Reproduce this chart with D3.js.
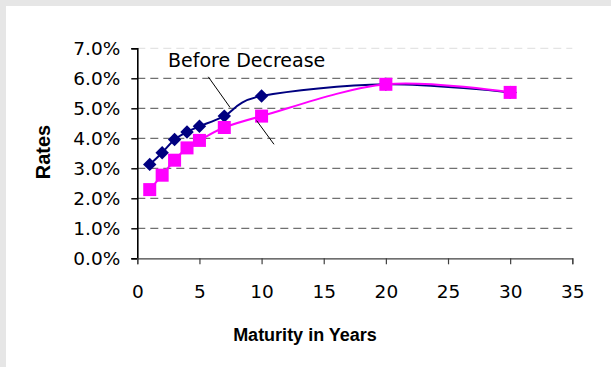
<!DOCTYPE html>
<html>
<head>
<meta charset="utf-8">
<script src="https://cdn.jsdelivr.net/npm/d3@7"></script>
<style>
  html, body { margin: 0; padding: 0; background: #e6e6e6; }
  svg { display: block; }
</style>
</head>
<body>
<svg id="chart" width="611" height="367"></svg>
<script>
// Yield curve before and after a rate decrease
const maturities = [1, 2, 3, 4, 5, 7, 10, 20, 30];
const beforeRates = [3.13, 3.52, 3.96, 4.21, 4.40, 4.74, 5.41, 5.80, 5.53];
const afterRates  = [2.29, 2.77, 3.27, 3.68, 3.93, 4.36, 4.74, 5.80, 5.53];
const xTicks = [0, 5, 10, 15, 20, 25, 30, 35];
const yTicks = [0, 1, 2, 3, 4, 5, 6, 7];
const calloutText = "Before Decrease";
// leader lines in data units [x1, y1, x2, y2]
const leaders = [
  [5.71, 6.05, 7.46, 5.03],
  [9.6, 4.59, 11.0, 3.8]
];

const svg = d3.select("#chart");
svg.append("rect").attr("x", 6).attr("y", 6).attr("width", 605).attr("height", 361).attr("fill", "#ffffff");

const x = d3.scaleLinear().domain([0, 35]).range([137.3, 572.3]);
const y = d3.scaleLinear().domain([0, 7]).range([258.3, 48.3]);

const font = "'DejaVu Sans', Verdana, sans-serif";
const boldFont = "'Liberation Sans', Arial, sans-serif";

// dashed gridlines
svg.append("g").selectAll("line").data(yTicks.filter(d => d > 0)).join("line")
  .attr("x1", x(0)).attr("x2", x(35))
  .attr("y1", d => y(d)).attr("y2", d => y(d))
  .attr("stroke", d => d === 7 ? "#e4e4e4" : "#707070")
  .attr("stroke-width", 1.3)
  .attr("stroke-dasharray", "8,5");

// axes
const yAxis = svg.append("g").attr("transform", `translate(${x(0)},0)`)
  .call(d3.axisLeft(y).tickValues(yTicks).tickSize(6).tickPadding(11)
    .tickFormat(d => d3.format(".1f")(d) + "%"));
yAxis.select(".domain").attr("stroke", "#000").attr("stroke-width", 1.6);
yAxis.selectAll(".tick line").attr("stroke", "#000").attr("stroke-width", 1.4);
yAxis.selectAll("text").attr("font-family", font).attr("font-size", 18.5).attr("fill", "#000")
  .attr("dy", "0.36em");

const xAxis = svg.append("g").attr("transform", `translate(0,${y(0)})`)
  .call(d3.axisBottom(x).tickValues(xTicks).tickSize(6).tickPadding(21));
xAxis.select(".domain").attr("stroke", "#404040").attr("stroke-width", 1.2);
xAxis.selectAll(".tick line").attr("stroke", "#404040").attr("stroke-width", 1.2);
xAxis.selectAll("text").attr("font-family", font).attr("font-size", 18.5).attr("fill", "#000");

// axis titles
svg.append("text").attr("x", 305).attr("y", 341)
  .attr("text-anchor", "middle").attr("font-family", boldFont).attr("font-weight", "bold")
  .attr("font-size", 18).text("Maturity in Years");
svg.append("text").attr("transform", "translate(50,152) rotate(-90)")
  .attr("text-anchor", "middle").attr("font-family", boldFont).attr("font-weight", "bold")
  .attr("font-size", 20).text("Rates");

// series
const line = d3.line().x(d => x(d[0])).y(d => y(d[1])).curve(d3.curveCardinal.tension(0));
const beforePts = maturities.map((m, i) => [m, beforeRates[i]]);
const afterPts = maturities.map((m, i) => [m, afterRates[i]]);

svg.append("path").datum(beforePts).attr("d", line)
  .attr("fill", "none").attr("stroke", "#000080").attr("stroke-width", 2);
svg.append("g").selectAll("path").data(beforePts).join("path")
  .attr("d", d3.symbol(d3.symbolDiamond2, 115)())
  .attr("transform", d => `translate(${x(d[0])},${y(d[1])})`)
  .attr("fill", "#000080");

svg.append("path").datum(afterPts).attr("d", line)
  .attr("fill", "none").attr("stroke", "#ff00ff").attr("stroke-width", 2);
svg.append("g").selectAll("rect").data(afterPts).join("rect")
  .attr("x", d => x(d[0]) - 6.5).attr("y", d => y(d[1]) - 6.5)
  .attr("width", 13).attr("height", 13)
  .attr("fill", "#ff00ff");

// callout
svg.append("text").attr("x", 168).attr("y", 66.7)
  .attr("font-family", font).attr("font-size", 19).attr("fill", "#000")
  .text(calloutText);
svg.append("g").selectAll("line").data(leaders).join("line")
  .attr("x1", d => x(d[0])).attr("y1", d => y(d[1]))
  .attr("x2", d => x(d[2])).attr("y2", d => y(d[3]))
  .attr("stroke", "#000").attr("stroke-width", 1);
</script>
</body>
</html>
